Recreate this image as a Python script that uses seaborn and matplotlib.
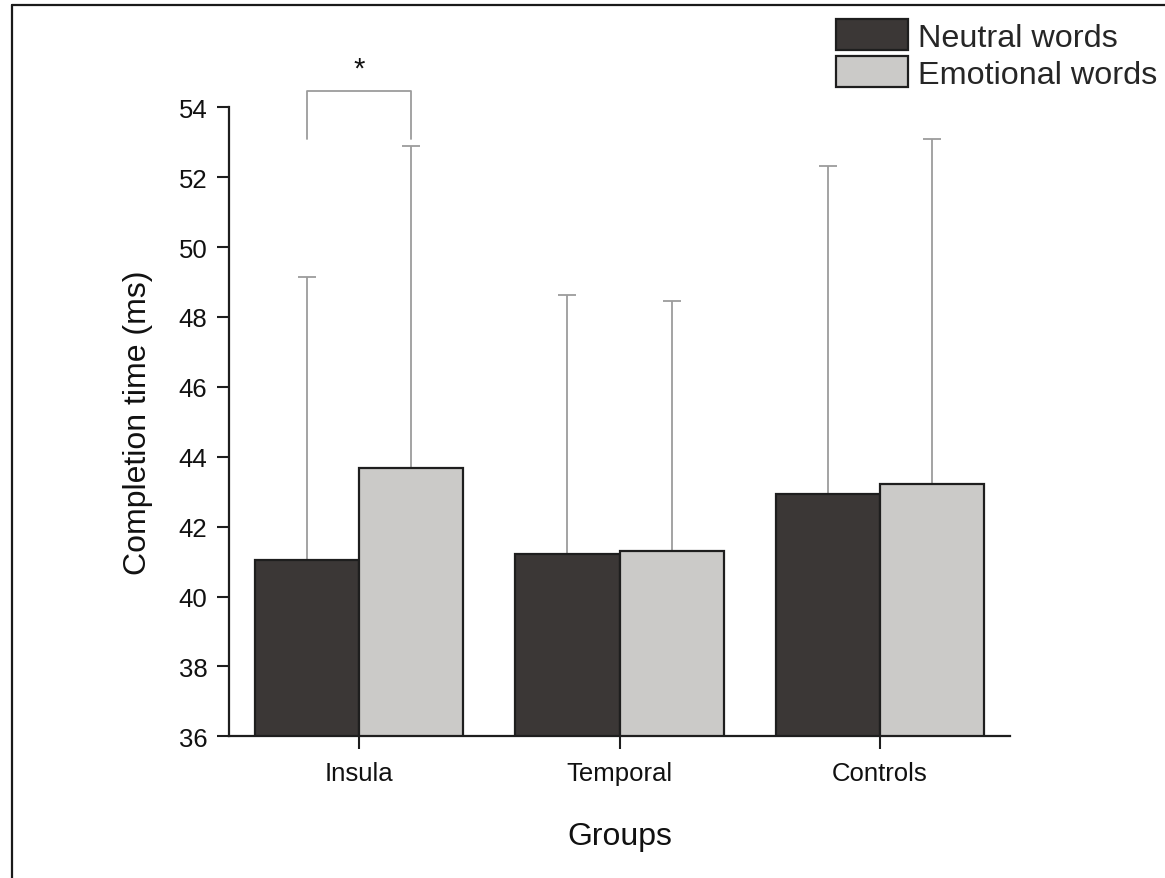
import numpy as np
import pandas as pd
import matplotlib
matplotlib.use("Agg")
import matplotlib.pyplot as plt
from matplotlib.lines import Line2D
import seaborn as sns

# Mean completion times and SDs per group and word type
groups = ["Insula", "Temporal", "Controls"]
conditions = ["Neutral words", "Emotional words"]
neutral_means = [41.05, 41.21, 42.92]
emotional_means = [43.68, 41.29, 43.22]
neutral_sd = [8.09, 7.43, 9.41]
emotional_sd = [9.22, 7.18, 9.88]

y_ticks = [36, 38, 40, 42, 44, 46, 48, 50, 52, 54]

# Significance bracket between the two Insula bars
bracket_low = 53.1
bracket_top = 54.46
star_y = 54.88

df = pd.DataFrame({
    "Group": groups * 2,
    "Condition": [conditions[0]] * 3 + [conditions[1]] * 3,
    "Time": neutral_means + emotional_means,
})

sns.set_theme(style="ticks")
plt.rcParams["font.family"] = ["Liberation Sans", "DejaVu Sans"]

dark = "#3b3736"
light = "#cbcac8"
edge = "#1e1e1e"
err_col = "#9c9c9c"

fig = plt.figure(figsize=(11.65, 8.79), dpi=100)
W, H = 1165, 879
ax = fig.add_axes([229 / W, 1 - 737.3 / H, (1010 - 229) / W, (737.3 - 108.3) / H])

sns.barplot(data=df, x="Group", y="Time", hue="Condition", order=groups,
            hue_order=conditions, palette=[dark, light], errorbar=None,
            width=0.8, edgecolor=edge, linewidth=1.6, saturation=1,
            ax=ax, zorder=2)

# Upper standard-deviation whiskers at each bar centre
for cont, sds in zip(ax.containers, [neutral_sd, emotional_sd]):
    xs = [p.get_x() + p.get_width() / 2 for p in cont.patches]
    hs = [p.get_height() for p in cont.patches]
    ax.errorbar(xs, hs, yerr=[np.zeros(len(sds)), sds], fmt="none",
                ecolor=err_col, elinewidth=1.3, capsize=6.5, capthick=1.3,
                zorder=1)

ax.set_ylim(36, 54)
ax.set_xlim(-0.5, 2.5)
ax.set_yticks(y_ticks)

ax.set_xlabel("Groups", fontsize=23, color="#111111")
ax.set_ylabel("Completion time (ms)", fontsize=23, color="#111111")
ax.xaxis.set_label_coords(0.5, -0.1347)
ax.yaxis.set_label_coords(-0.0967, 0.5)

ax.tick_params(axis="both", length=9, width=1.5, color=edge,
               labelcolor="#111111")
ax.tick_params(axis="x", labelsize=18.5, pad=9)
ax.tick_params(axis="y", labelsize=18.5, pad=6.5)

for side in ["top", "right"]:
    ax.spines[side].set_visible(False)
for side in ["left", "bottom"]:
    ax.spines[side].set_linewidth(1.6)
    ax.spines[side].set_color(edge)

# Bracket and asterisk over the Insula pair
ins_x = [p.get_x() + p.get_width() / 2 for p in
         (ax.containers[0].patches[0], ax.containers[1].patches[0])]
ax.plot([ins_x[0], ins_x[0], ins_x[1], ins_x[1]],
        [bracket_low, bracket_top, bracket_top, bracket_low],
        color=err_col, lw=1.3, clip_on=False, zorder=3)
ax.text((ins_x[0] + ins_x[1]) / 2, star_y, "*", fontsize=21,
        ha="center", va="baseline", color="#111111", clip_on=False)

# Legend in the upper right corner of the figure
handles, labels = ax.get_legend_handles_labels()
if ax.get_legend():
    ax.get_legend().remove()
for h in handles:
    h.set_edgecolor(edge)
    h.set_linewidth(1.6)
fig.legend(handles, labels, loc="upper left",
           bbox_to_anchor=(836 / W, 1 - 20 / H), bbox_transform=fig.transFigure,
           frameon=False, fontsize=23.3, handlelength=2.22, handleheight=1.1,
           handletextpad=0.3, labelspacing=0.12, borderpad=0,
           borderaxespad=0)

# Outer frame lines along the left and top edges
fig.add_artist(Line2D([12 / W, 12 / W], [0, 1 - 6 / H], color="#1a1a1a",
                      lw=1.6, transform=fig.transFigure))
fig.add_artist(Line2D([12 / W, 1], [1 - 6 / H, 1 - 6 / H], color="#1a1a1a",
                      lw=1.6, transform=fig.transFigure))

fig.savefig("out.png", dpi=100, facecolor="white")
